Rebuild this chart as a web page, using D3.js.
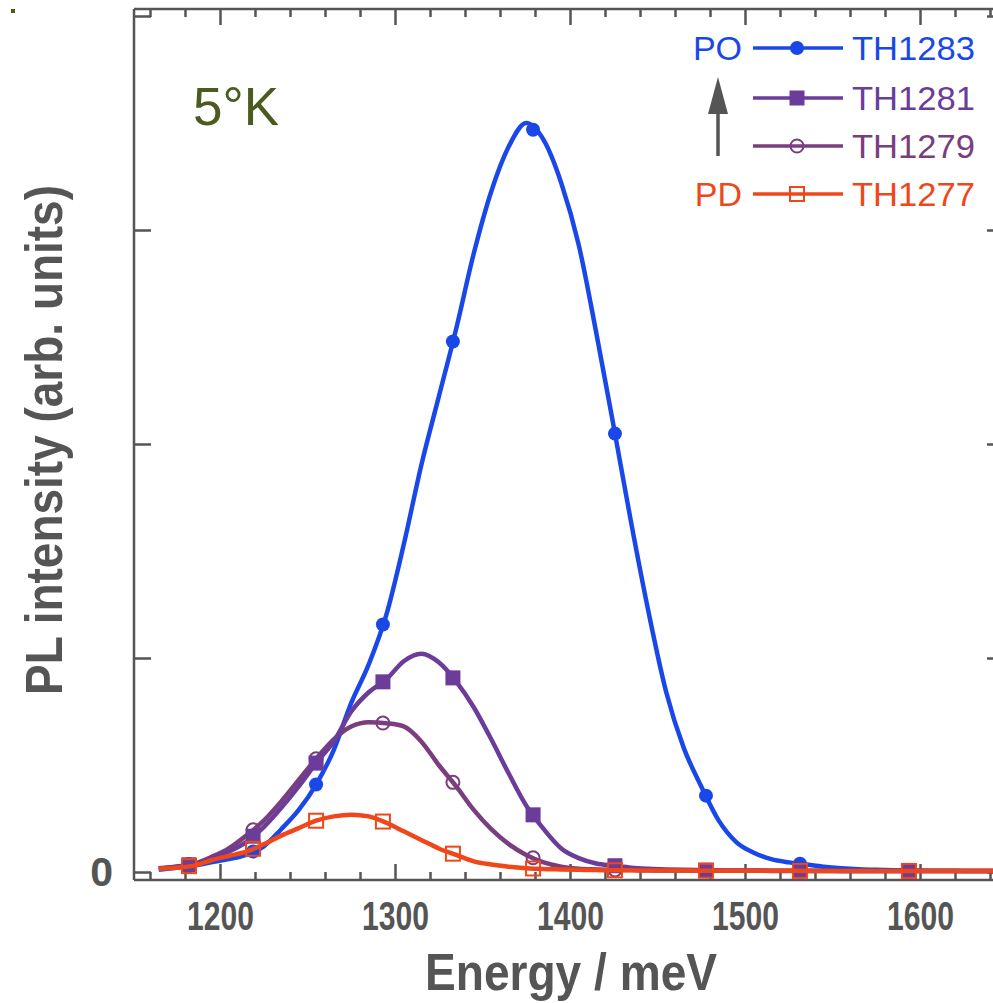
<!DOCTYPE html>
<html><head><meta charset="utf-8">
<script src="https://cdn.jsdelivr.net/npm/d3@7"></script>
<style>body{margin:0;background:#fff}svg{display:block}</style>
</head><body>
<svg id="c" width="993" height="1003"></svg>
<script>
// ---- data ----
const energy = [1165,1175,1185,1195,1205,1215,1225,1235,1245,1255,1265,1275,1285,1295,1305,1315,1325,1335,1345,1355,1365,1375,1385,1395,1405,1415,1425,1435,1445,1455,1465,1475,1485,1495,1505,1515,1525,1535,1545,1555,1565,1575,1585,1595,1605,1615,1625,1635,1645];
const th1283 = [0.010,0.020,0.030,0.045,0.060,0.080,0.120,0.200,0.290,0.410,0.570,0.790,0.970,1.200,1.530,1.900,2.220,2.540,2.890,3.180,3.390,3.500,3.420,3.220,2.930,2.520,2.080,1.630,1.210,0.840,0.580,0.400,0.240,0.140,0.090,0.060,0.045,0.035,0.025,0.018,0.013,0.010,0.008,0.007,0.006,0.006,0.005,0.005,0.005];
const th1281 = [0.017,0.025,0.037,0.060,0.095,0.140,0.210,0.300,0.400,0.510,0.610,0.750,0.840,0.900,0.985,1.020,0.980,0.890,0.770,0.620,0.460,0.310,0.200,0.110,0.065,0.040,0.030,0.020,0.015,0.012,0.010,0.009,0.008,0.007,0.007,0.006,0.006,0.006,0.006,0.005,0.005,0.005,0.005,0.005,0.005,0.005,0.005,0.005,0.005];
const th1279 = [0.017,0.025,0.038,0.070,0.110,0.170,0.240,0.330,0.430,0.530,0.620,0.680,0.700,0.695,0.680,0.610,0.500,0.400,0.290,0.200,0.130,0.080,0.045,0.025,0.015,0.012,0.010,0.009,0.008,0.007,0.007,0.006,0.006,0.006,0.006,0.005,0.005,0.005,0.005,0.005,0.005,0.005,0.005,0.005,0.005,0.005,0.005,0.005,0.005];
const th1277 = [0.015,0.020,0.030,0.055,0.075,0.095,0.130,0.170,0.205,0.240,0.260,0.268,0.260,0.230,0.190,0.150,0.110,0.080,0.050,0.035,0.025,0.018,0.014,0.012,0.010,0.009,0.008,0.008,0.007,0.007,0.007,0.006,0.006,0.006,0.006,0.006,0.006,0.005,0.005,0.005,0.005,0.005,0.005,0.005,0.005,0.005,0.005,0.005,0.005];
const markerEnergy = [1182.3,1218.9,1254.9,1293.1,1333.1,1378.9,1425.7,1477.7,1531.4,1593.7];
const seriesNames = ["TH1283","TH1281","TH1279","TH1277"];
const seriesColors = ["#1a48e8","#6b3c99","#7a3d7e","#f0471a"];
const xMajorTicks = [1200,1300,1400,1500,1600];
const xMinorTicks = [1160,1180,1220,1240,1260,1280,1320,1340,1360,1380,1420,1440,1460,1480,1520,1540,1560,1580,1620,1640];
const yTicks = [0,1,2,3,4];
const yTickLabels = ["0","","","",""];

// ---- layout ----
const svg = d3.select("#c");
const L = 134, T = 9, R = 1004, B = 880;
const axisColor = "#555555";
const FONT = "'Liberation Sans', Arial, sans-serif";
const x = d3.scaleLinear().domain([1150.86, 1648]).range([L, R]);
const y = d3.scaleLinear().domain([-8/214, 863/214]).range([B, T]);

svg.append("defs").append("clipPath").attr("id","clip")
  .append("rect").attr("x",L).attr("y",T).attr("width",R-L).attr("height",B-T);

// tiny mark at top-left
svg.append("rect").attr("x",11).attr("y",9).attr("width",4).attr("height",4).attr("fill","#4b5a1e");

function styleAxis(g){
  g.select(".domain").remove();
  g.selectAll(".tick line").attr("stroke",axisColor).attr("stroke-width",2.5);
}
// bottom axis
const gB = svg.append("g").attr("transform",`translate(0,${B})`)
  .call(d3.axisBottom(x).tickValues(xMajorTicks).tickSizeInner(-16).tickSizeOuter(0).tickPadding(21).tickFormat(d3.format("d")));
styleAxis(gB);
gB.selectAll(".tick text").attr("fill",axisColor).attr("font-family",FONT)
  .attr("font-weight","bold").attr("font-size",41).attr("textLength",67).attr("lengthAdjust","spacingAndGlyphs");
const gBm = svg.append("g").attr("transform",`translate(0,${B})`)
  .call(d3.axisBottom(x).tickValues(xMinorTicks).tickSizeInner(-8).tickSizeOuter(0).tickFormat(""));
styleAxis(gBm);
// top axis
const gT = svg.append("g").attr("transform",`translate(0,${T})`)
  .call(d3.axisTop(x).tickValues(xMajorTicks).tickSizeInner(-16).tickSizeOuter(0).tickFormat(""));
styleAxis(gT);
const gTm = svg.append("g").attr("transform",`translate(0,${T})`)
  .call(d3.axisTop(x).tickValues(xMinorTicks).tickSizeInner(-8).tickSizeOuter(0).tickFormat(""));
styleAxis(gTm);
// left axis
const gL = svg.append("g").attr("transform",`translate(${L},0)`)
  .call(d3.axisLeft(y).tickValues(yTicks).tickSizeInner(-17).tickSizeOuter(0).tickPadding(21).tickFormat((d,i)=>yTickLabels[i]));
styleAxis(gL);
gL.selectAll(".tick text").attr("fill",axisColor).attr("font-family",FONT)
  .attr("font-weight","bold").attr("font-size",41);
// right axis
const gR = svg.append("g").attr("transform",`translate(${R},0)`)
  .call(d3.axisRight(y).tickValues(yTicks).tickSizeInner(-17).tickSizeOuter(0).tickFormat(""));
styleAxis(gR);

// frame
const frame = svg.append("g").attr("stroke",axisColor).attr("stroke-width",2.5).attr("fill","none");
frame.append("line").attr("x1",L).attr("x2",L).attr("y1",T).attr("y2",B);
frame.append("line").attr("x1",L).attr("x2",R).attr("y1",B).attr("y2",B);
frame.append("line").attr("x1",L).attr("x2",R).attr("y1",T).attr("y2",T);
frame.append("line").attr("x1",R).attr("x2",R).attr("y1",T).attr("y2",B);

// axis titles
svg.append("text").attr("x",571).attr("y",990).attr("text-anchor","middle")
  .attr("font-family",FONT).attr("font-weight","bold").attr("font-size",52)
  .attr("fill",axisColor).attr("textLength",292).attr("lengthAdjust","spacingAndGlyphs").text("Energy / meV");
svg.append("text").attr("transform","translate(62,440) rotate(-90)").attr("text-anchor","middle")
  .attr("font-family",FONT).attr("font-weight","bold").attr("font-size",52)
  .attr("fill",axisColor).attr("textLength",510).attr("lengthAdjust","spacingAndGlyphs").text("PL intensity (arb. units)");

// ---- series ----
const seriesData = [th1283, th1281, th1279, th1277];
const drawOrder = [0, 2, 1, 3];
const line = d3.line().x(d=>x(d[0])).y(d=>y(d[1])).curve(d3.curveMonotoneX);
const plot = svg.append("g").attr("clip-path","url(#clip)");

function drawMarker(g, idx, cx, cy){
  const c = seriesColors[idx];
  if (idx === 0) g.append("circle").attr("cx",cx).attr("cy",cy).attr("r",7).attr("fill",c);
  else if (idx === 1) g.append("rect").attr("x",cx-7.5).attr("y",cy-7.5).attr("width",15).attr("height",15).attr("fill",c);
  else if (idx === 2) g.append("circle").attr("cx",cx).attr("cy",cy).attr("r",6.5).attr("fill","none").attr("stroke",c).attr("stroke-width",2);
  else g.append("rect").attr("x",cx-7).attr("y",cy-7).attr("width",14).attr("height",14).attr("fill","none").attr("stroke",c).attr("stroke-width",2);
}

drawOrder.forEach(i => {
  const vals = seriesData[i];
  const pts = energy.map((e,k)=>[e, vals[k]]);
  plot.append("path").datum(pts).attr("d",line).attr("fill","none")
    .attr("stroke",seriesColors[i]).attr("stroke-width",4.5).attr("stroke-linejoin","round");
  const interp = d3.scaleLinear().domain(energy).range(vals);
  const mg = plot.append("g");
  markerEnergy.forEach(e => drawMarker(mg, i, x(e), y(interp(e))));
});

// ---- legend ----
const legRows = [48, 98, 146, 194];
const lg = svg.append("g");
seriesNames.forEach((name,i) => {
  const ry = legRows[i];
  lg.append("line").attr("x1",753).attr("x2",843).attr("y1",ry).attr("y2",ry)
    .attr("stroke",seriesColors[i]).attr("stroke-width",3.5);
  drawMarker(lg, i, 797, ry);
  lg.append("text").attr("x",852).attr("y",ry+12).attr("font-family",FONT)
    .attr("font-size",34).attr("fill",seriesColors[i]).attr("textLength",123).attr("lengthAdjust","spacingAndGlyphs").text(name);
});
lg.append("text").attr("x",742).attr("y",legRows[0]+12).attr("text-anchor","end")
  .attr("font-family",FONT).attr("font-size",34).attr("fill",seriesColors[0]).text("PO");
lg.append("text").attr("x",742).attr("y",legRows[3]+12).attr("text-anchor","end")
  .attr("font-family",FONT).attr("font-size",34).attr("fill",seriesColors[3]).text("PD");
// arrow
lg.append("line").attr("x1",718).attr("x2",718).attr("y1",156).attr("y2",108).attr("stroke",axisColor).attr("stroke-width",3.5);
lg.append("path").attr("d","M708,114 L718,77 L728,114 Z").attr("fill",axisColor);

// temperature label
svg.append("text").attr("x",193).attr("y",125).attr("font-family",FONT)
  .attr("font-size",53).attr("fill","#4b5a1e").text("5°K");
</script>
</body></html>
